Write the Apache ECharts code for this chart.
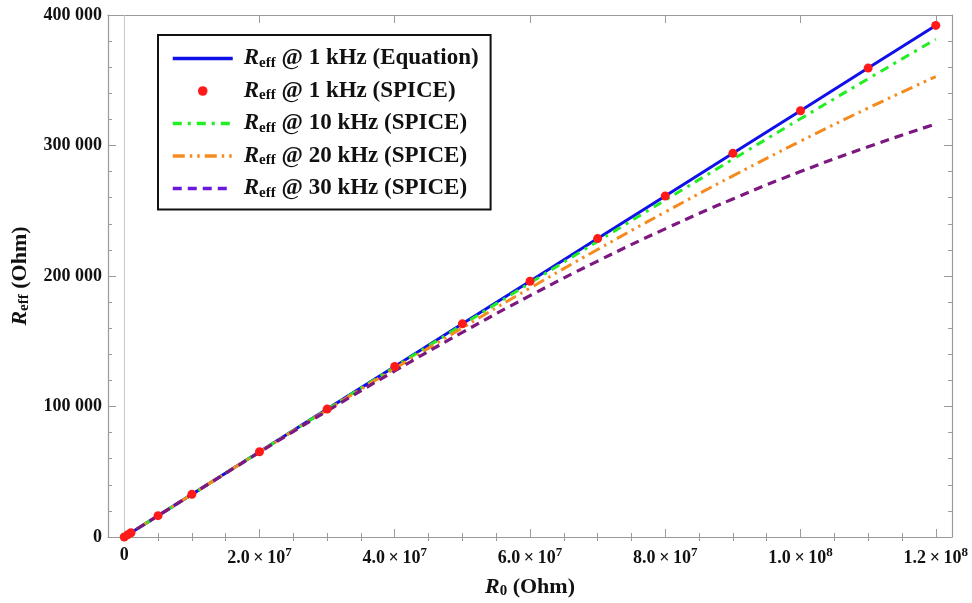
<!DOCTYPE html>
<html><head><meta charset="utf-8">
<script src="https://cdn.jsdelivr.net/npm/echarts@6/dist/echarts.min.js"></script>
<style>html,body{margin:0;padding:0;background:#fff}#c{width:972px;height:603px}</style>
</head><body><div id="c"></div>
<script>
// R0 sample points (Ohm)
const r0Values = [0, 1e7, 2e7, 3e7, 4e7, 5e7, 6e7, 7e7, 8e7, 9e7, 1e8, 1.1e8, 1.2e8];
const spiceR0 = [0, 5e5, 1e6, 5e6, 1e7, 2e7, 3e7, 4e7, 5e7, 6e7, 7e7, 8e7, 9e7, 1e8, 1.1e8, 1.2e8];
// Reff values (Ohm)
const eq1k     = [0, 32667, 65333, 98000, 130667, 163333, 196000, 228667, 261333, 294000, 326667, 359333, 392000];
const spice1k  = [0, 1633, 3267, 16333, 32667, 65333, 98000, 130667, 163333, 196000, 228667, 261333, 294000, 326667, 359333, 392000];
const spice10k = [0, 32661, 65283, 97830, 130265, 162549, 194647, 226524, 258144, 289473, 320480, 351131, 381400];
const spice20k = [0, 32642, 65133, 97325, 129075, 160246, 190708, 220344, 249048, 276722, 303289, 328683, 352800];
const spice30k = [0, 32612, 64901, 96552, 127273, 156800, 184906, 211405, 236145, 259031, 280000, 299029, 316500];
// axis ticks
const xLabelTicks = [0, 2e7, 4e7, 6e7, 8e7, 1e8, 1.2e8];
const xMinorTicks = [5e6, 1e7, 1.5e7, 2.5e7, 3e7, 3.5e7, 4.5e7, 5e7, 5.5e7, 6.5e7, 7e7, 7.5e7, 8.5e7, 9e7, 9.5e7, 1.05e8, 1.1e8, 1.15e8];
const yTickStep = 100000;

const names = {
  eq: 'Reff @ 1 kHz (Equation)',
  s1: 'Reff @ 1 kHz (SPICE)',
  s10: 'Reff @ 10 kHz (SPICE)',
  s20: 'Reff @ 20 kHz (SPICE)',
  s30: 'Reff @ 30 kHz (SPICE)'
};
const legendRest = {};
legendRest[names.eq] = ' @ 1 kHz (Equation)';
legendRest[names.s1] = ' @ 1 kHz (SPICE)';
legendRest[names.s10] = ' @ 10 kHz (SPICE)';
legendRest[names.s20] = ' @ 20 kHz (SPICE)';
legendRest[names.s30] = ' @ 30 kHz (SPICE)';

const FONT = '"Liberation Serif", "Times New Roman", serif';
const pair = (xs, ys) => xs.map((x, i) => [x, ys[i]]);

const frameColor = '#9a9a9a';
const xRange = { min: -2.4e6, max: 1.224e8 };

function xFmt(v) {
  if (v === 0) return '{m|0}';
  const e = Math.floor(Math.log10(v) + 1e-9);
  const m = (v / Math.pow(10, e)).toFixed(1);
  return '{m|' + m + '\u2009\u00d7\u200910}{s|' + e + '}';
}
function yFmt(v) {
  return String(v).replace(/\B(?=(\d{3})+(?!\d))/g, ' ');
}

const chart = echarts.init(document.getElementById('c'), null, { renderer: 'canvas' });
const baseX = (extra) => Object.assign({
  type: 'value', min: xRange.min, max: xRange.max,
  splitLine: { show: false },
  axisLine: { show: true, onZero: false, lineStyle: { color: frameColor, width: 1.2 } }
}, extra);
const hideSym = { color: 'rgba(0,0,0,0)', borderWidth: 0 };

chart.setOption({
  animation: false,
  backgroundColor: '#fff',
  grid: { left: 108, right: 20, top: 15, bottom: 66, containLabel: false, outerBoundsMode: 'none' },
  xAxis: [
    baseX({
      position: 'bottom',
      name: '{i|R}{sub|0}{n| (Ohm)}', nameLocation: 'middle', nameGap: 38,
      nameTextStyle: { rich: {
        i: { fontFamily: FONT, fontWeight: 'bold', fontStyle: 'italic', fontSize: 22, color: '#111' },
        sub: { fontFamily: FONT, fontWeight: 'bold', fontSize: 15, color: '#111', padding: [9, 0, 0, 0] },
        n: { fontFamily: FONT, fontWeight: 'bold', fontSize: 22, color: '#111' }
      } },
      axisTick: { show: true, inside: true, length: 8, customValues: xLabelTicks, lineStyle: { color: frameColor } },
      axisLabel: {
        show: true, margin: 9, customValues: xLabelTicks, formatter: xFmt,
        rich: {
          m: { fontFamily: FONT, fontWeight: 'bold', fontSize: 18, color: '#111' },
          s: { fontFamily: FONT, fontWeight: 'bold', fontSize: 13, color: '#111', padding: [0, 0, 12, 0] }
        }
      }
    }),
    baseX({
      position: 'bottom',
      axisLine: { show: false },
      axisTick: { show: true, inside: true, length: 4, customValues: xMinorTicks, lineStyle: { color: frameColor } },
      axisLabel: { show: false }
    }),
    baseX({
      position: 'top',
      axisTick: { show: true, inside: true, length: 8, customValues: xLabelTicks, lineStyle: { color: frameColor } },
      axisLabel: { show: false }
    }),
    baseX({
      position: 'top',
      axisLine: { show: false },
      axisTick: { show: true, inside: true, length: 4, customValues: xMinorTicks, lineStyle: { color: frameColor } },
      axisLabel: { show: false }
    })
  ],
  yAxis: [
    {
      type: 'value', min: 0, max: 4 * yTickStep, interval: yTickStep, position: 'left',
      name: '{i|R}{sub|eff}{n| (Ohm)}', nameLocation: 'middle', nameGap: 76, nameRotate: 90,
      nameTextStyle: { rich: {
        i: { fontFamily: FONT, fontWeight: 'bold', fontStyle: 'italic', fontSize: 22, color: '#111' },
        sub: { fontFamily: FONT, fontWeight: 'bold', fontSize: 15, color: '#111', padding: [9, 0, 0, 0] },
        n: { fontFamily: FONT, fontWeight: 'bold', fontSize: 22, color: '#111' }
      } },
      splitLine: { show: false },
      axisLine: { show: true, onZero: false, lineStyle: { color: frameColor, width: 1.2 } },
      axisTick: { show: true, inside: true, length: 8, lineStyle: { color: frameColor } },
      minorTick: { show: true, splitNumber: 5, length: 4, lineStyle: { color: frameColor } },
      axisLabel: { margin: 6, formatter: yFmt, fontFamily: FONT, fontWeight: 'bold', fontSize: 18, color: '#111' }
    },
    {
      type: 'value', min: 0, max: 4 * yTickStep, interval: yTickStep, position: 'right',
      splitLine: { show: false },
      axisLine: { show: true, onZero: false, lineStyle: { color: frameColor, width: 1.2 } },
      axisTick: { show: true, inside: true, length: 8, lineStyle: { color: frameColor } },
      minorTick: { show: true, splitNumber: 5, length: 4, lineStyle: { color: frameColor } },
      axisLabel: { show: false }
    }
  ],
  legend: {
    left: 158, top: 35, orient: 'vertical',
    padding: [12, 12, 9, 13],
    borderColor: '#111', borderWidth: 2, backgroundColor: '#fff',
    itemWidth: 60, itemHeight: 12, itemGap: 9,
    data: [
      { name: names.eq, itemStyle: hideSym, lineStyle: { width: 3.5 } },
      { name: names.s1 },
      { name: names.s10, itemStyle: hideSym, lineStyle: { width: 3.5 } },
      { name: names.s20, itemStyle: hideSym, lineStyle: { width: 3.5 } },
      { name: names.s30, itemStyle: hideSym, lineStyle: { color: '#6a18dc', width: 3.5 } }
    ],
    formatter: (n) => '{r|R}{e|eff}{t|' + legendRest[n] + '}',
    textStyle: {
      rich: {
        r: { fontFamily: FONT, fontWeight: 'bold', fontStyle: 'italic', fontSize: 23, color: '#111', padding: [0, 0, 0, 6] },
        e: { fontFamily: FONT, fontWeight: 'bold', fontSize: 15, color: '#111', padding: [9, 0, 0, 0] },
        t: { fontFamily: FONT, fontWeight: 'bold', fontSize: 23, color: '#111' }
      }
    }
  },
  series: [
    {
      name: names.eq, type: 'line', data: pair(r0Values, eq1k), symbol: 'none', smooth: false,
      lineStyle: { color: '#1010e8', width: 3 }, itemStyle: { color: '#1010e8' }, z: 3,
      markLine: {
        silent: true, symbol: 'none', label: { show: false },
        lineStyle: { color: '#c8c8c8', width: 1, type: 'solid' },
        data: [{ xAxis: 0 }], z: 1
      }
    },
    {
      name: names.s10, type: 'line', data: pair(r0Values, spice10k), symbol: 'none', smooth: true,
      lineStyle: { color: '#22ee22', width: 3, type: [9, 6, 3, 6] }, itemStyle: { color: '#22ee22' }, z: 4
    },
    {
      name: names.s20, type: 'line', data: pair(r0Values, spice20k), symbol: 'none', smooth: true,
      lineStyle: { color: '#f58b1f', width: 3, type: [12, 5, 2.5, 5, 2.5, 5] }, itemStyle: { color: '#f58b1f' }, z: 5
    },
    {
      name: names.s30, type: 'line', data: pair(r0Values, spice30k), symbol: 'none', smooth: true,
      lineStyle: { color: '#7d1880', width: 3.2, type: [9, 6] }, itemStyle: { color: '#7d1880' }, z: 6
    },
    {
      name: names.s1, type: 'line', data: pair(spiceR0, spice1k), symbol: 'circle', symbolSize: 9,
      showSymbol: true, lineStyle: { width: 0, opacity: 0 }, itemStyle: { color: '#ff1a1a' }, z: 10
    }
  ]
});
</script>
</body></html>
